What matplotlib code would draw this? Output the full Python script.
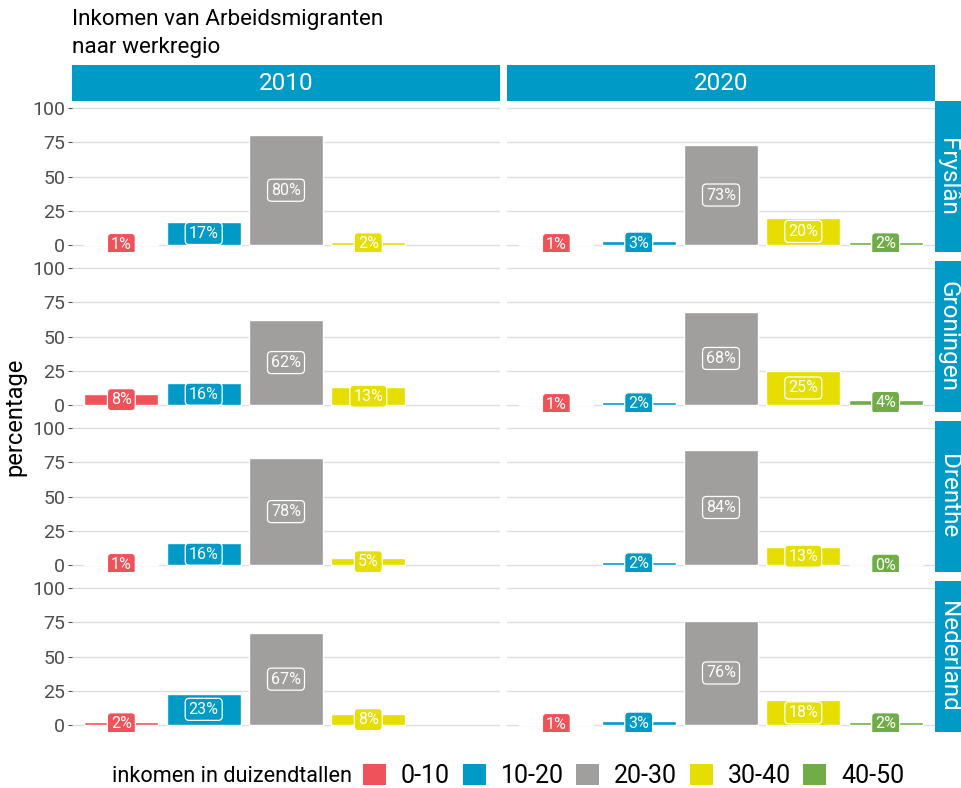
import numpy as np
import matplotlib
matplotlib.use("Agg")
import matplotlib.pyplot as plt
from matplotlib.patches import Patch

plt.rcParams['font.family'] = ['Roboto', 'DejaVu Sans']

# --- data ---
categories = ['0-10', '10-20', '20-30', '30-40', '40-50']
regions = ['Fryslân', 'Groningen', 'Drenthe', 'Nederland']
years = ['2010', '2020']
nan = np.nan
values_2010 = {
    'Fryslân':   [1, 17, 80, 2, nan],
    'Groningen': [8, 16, 62, 13, nan],
    'Drenthe':   [1, 16, 78, 5, nan],
    'Nederland': [2, 23, 67, 8, nan],
}
values_2020 = {
    'Fryslân':   [1, 3, 73, 20, 2],
    'Groningen': [1, 2, 68, 25, 4],
    'Drenthe':   [nan, 2, 84, 13, 0],
    'Nederland': [1, 3, 76, 18, 2],
}
yticks = [0, 25, 50, 75, 100]

colors = ['#F0525A', '#009AC7', '#A09F9E', '#E6DE00', '#70AD47']
strip_col = '#009AC7'

W, H = 961, 788
fig = plt.figure(figsize=(W / 100, H / 100), dpi=100)

def box(x0, y0, w, h):
    # pixel coords (from top-left) -> figure fraction
    return [x0 / W, 1 - (y0 + h) / H, w / W, h / H]

col_left = [72, 507]
col_w = 428
row_top = [101, 261, 421, 581]
row_h = 151

xpos = np.arange(1, len(categories) + 1)

for ci, (yr, data) in enumerate(zip(years, [values_2010, values_2020])):
    # strip boven
    sax = fig.add_axes(box(col_left[ci], 65, col_w, 36))
    sax.set_facecolor(strip_col)
    sax.set_xticks([]); sax.set_yticks([])
    for s in sax.spines.values():
        s.set_visible(False)
    sax.text(0.5, 0.5, yr, ha='center', va='center', color='white',
             fontsize=17.5, transform=sax.transAxes)

    for ri, reg in enumerate(regions):
        ax = fig.add_axes(box(col_left[ci], row_top[ri], col_w, row_h))
        ax.set_xlim(0.4, 5.6)
        ax.set_ylim(-5, 105)
        for s in ax.spines.values():
            s.set_visible(False)
        ax.set_axisbelow(True)
        ax.yaxis.grid(True, color='#DEDEDE', linewidth=1.0)
        ax.set_xticks([])
        ax.set_yticks(yticks)
        if ci == 0:
            ax.tick_params(axis='y', length=3, width=0.8, color='#555555',
                           labelsize=14, labelcolor='#4D4D4D', pad=2)
        else:
            ax.tick_params(axis='y', length=0, labelleft=False)

        vals = np.array(data[reg], dtype=float)
        ok = ~np.isnan(vals)
        ax.bar(xpos[ok], vals[ok], width=0.9,
               color=[colors[i] for i in range(len(vals)) if ok[i]],
               edgecolor='white', linewidth=1.0)
        for i, v in enumerate(vals):
            if np.isnan(v):
                continue
            ax.text(xpos[i], v / 2, f"{int(v)}%", ha='center', va='center',
                    color='white', fontsize=11.5, clip_on=True,
                    bbox=dict(boxstyle='round,pad=0.22,rounding_size=0.25',
                              fc=colors[i], ec='white', lw=0.9))

        if ci == 1:
            # strip rechts
            rax = fig.add_axes(box(935, row_top[ri], 26, row_h))
            rax.set_facecolor(strip_col)
            rax.set_xticks([]); rax.set_yticks([])
            for s in rax.spines.values():
                s.set_visible(False)
            rax.text(0.5, 0.5, reg, ha='center', va='center', color='white',
                     fontsize=17.5, rotation=-90, transform=rax.transAxes)

fig.text(72 / W, 1 - 25 / H, "Inkomen van Arbeidsmigranten",
         ha='left', va='baseline', fontsize=16.2)
fig.text(72 / W, 1 - 52.5 / H, "naar werkregio",
         ha='left', va='baseline', fontsize=16.2)

fig.text(15 / W, 1 - 417 / H, "percentage", rotation=90, ha='center',
         va='center', fontsize=17)

handles = [Patch(facecolor=c, edgecolor='none') for c in colors]
fig.text(112 / W, 1 - 776 / H, "inkomen in duizendtallen", ha='left',
         va='center', fontsize=15.6)
fig.legend(handles, categories, ncol=5, loc='center left',
           bbox_to_anchor=(363 / W, 1 - 776 / H), frameon=False,
           fontsize=18, handlelength=0.92, handleheight=0.9,
           handletextpad=0.6, columnspacing=0.5, borderpad=0,
           borderaxespad=0)

fig.savefig('out.png', dpi=100)
